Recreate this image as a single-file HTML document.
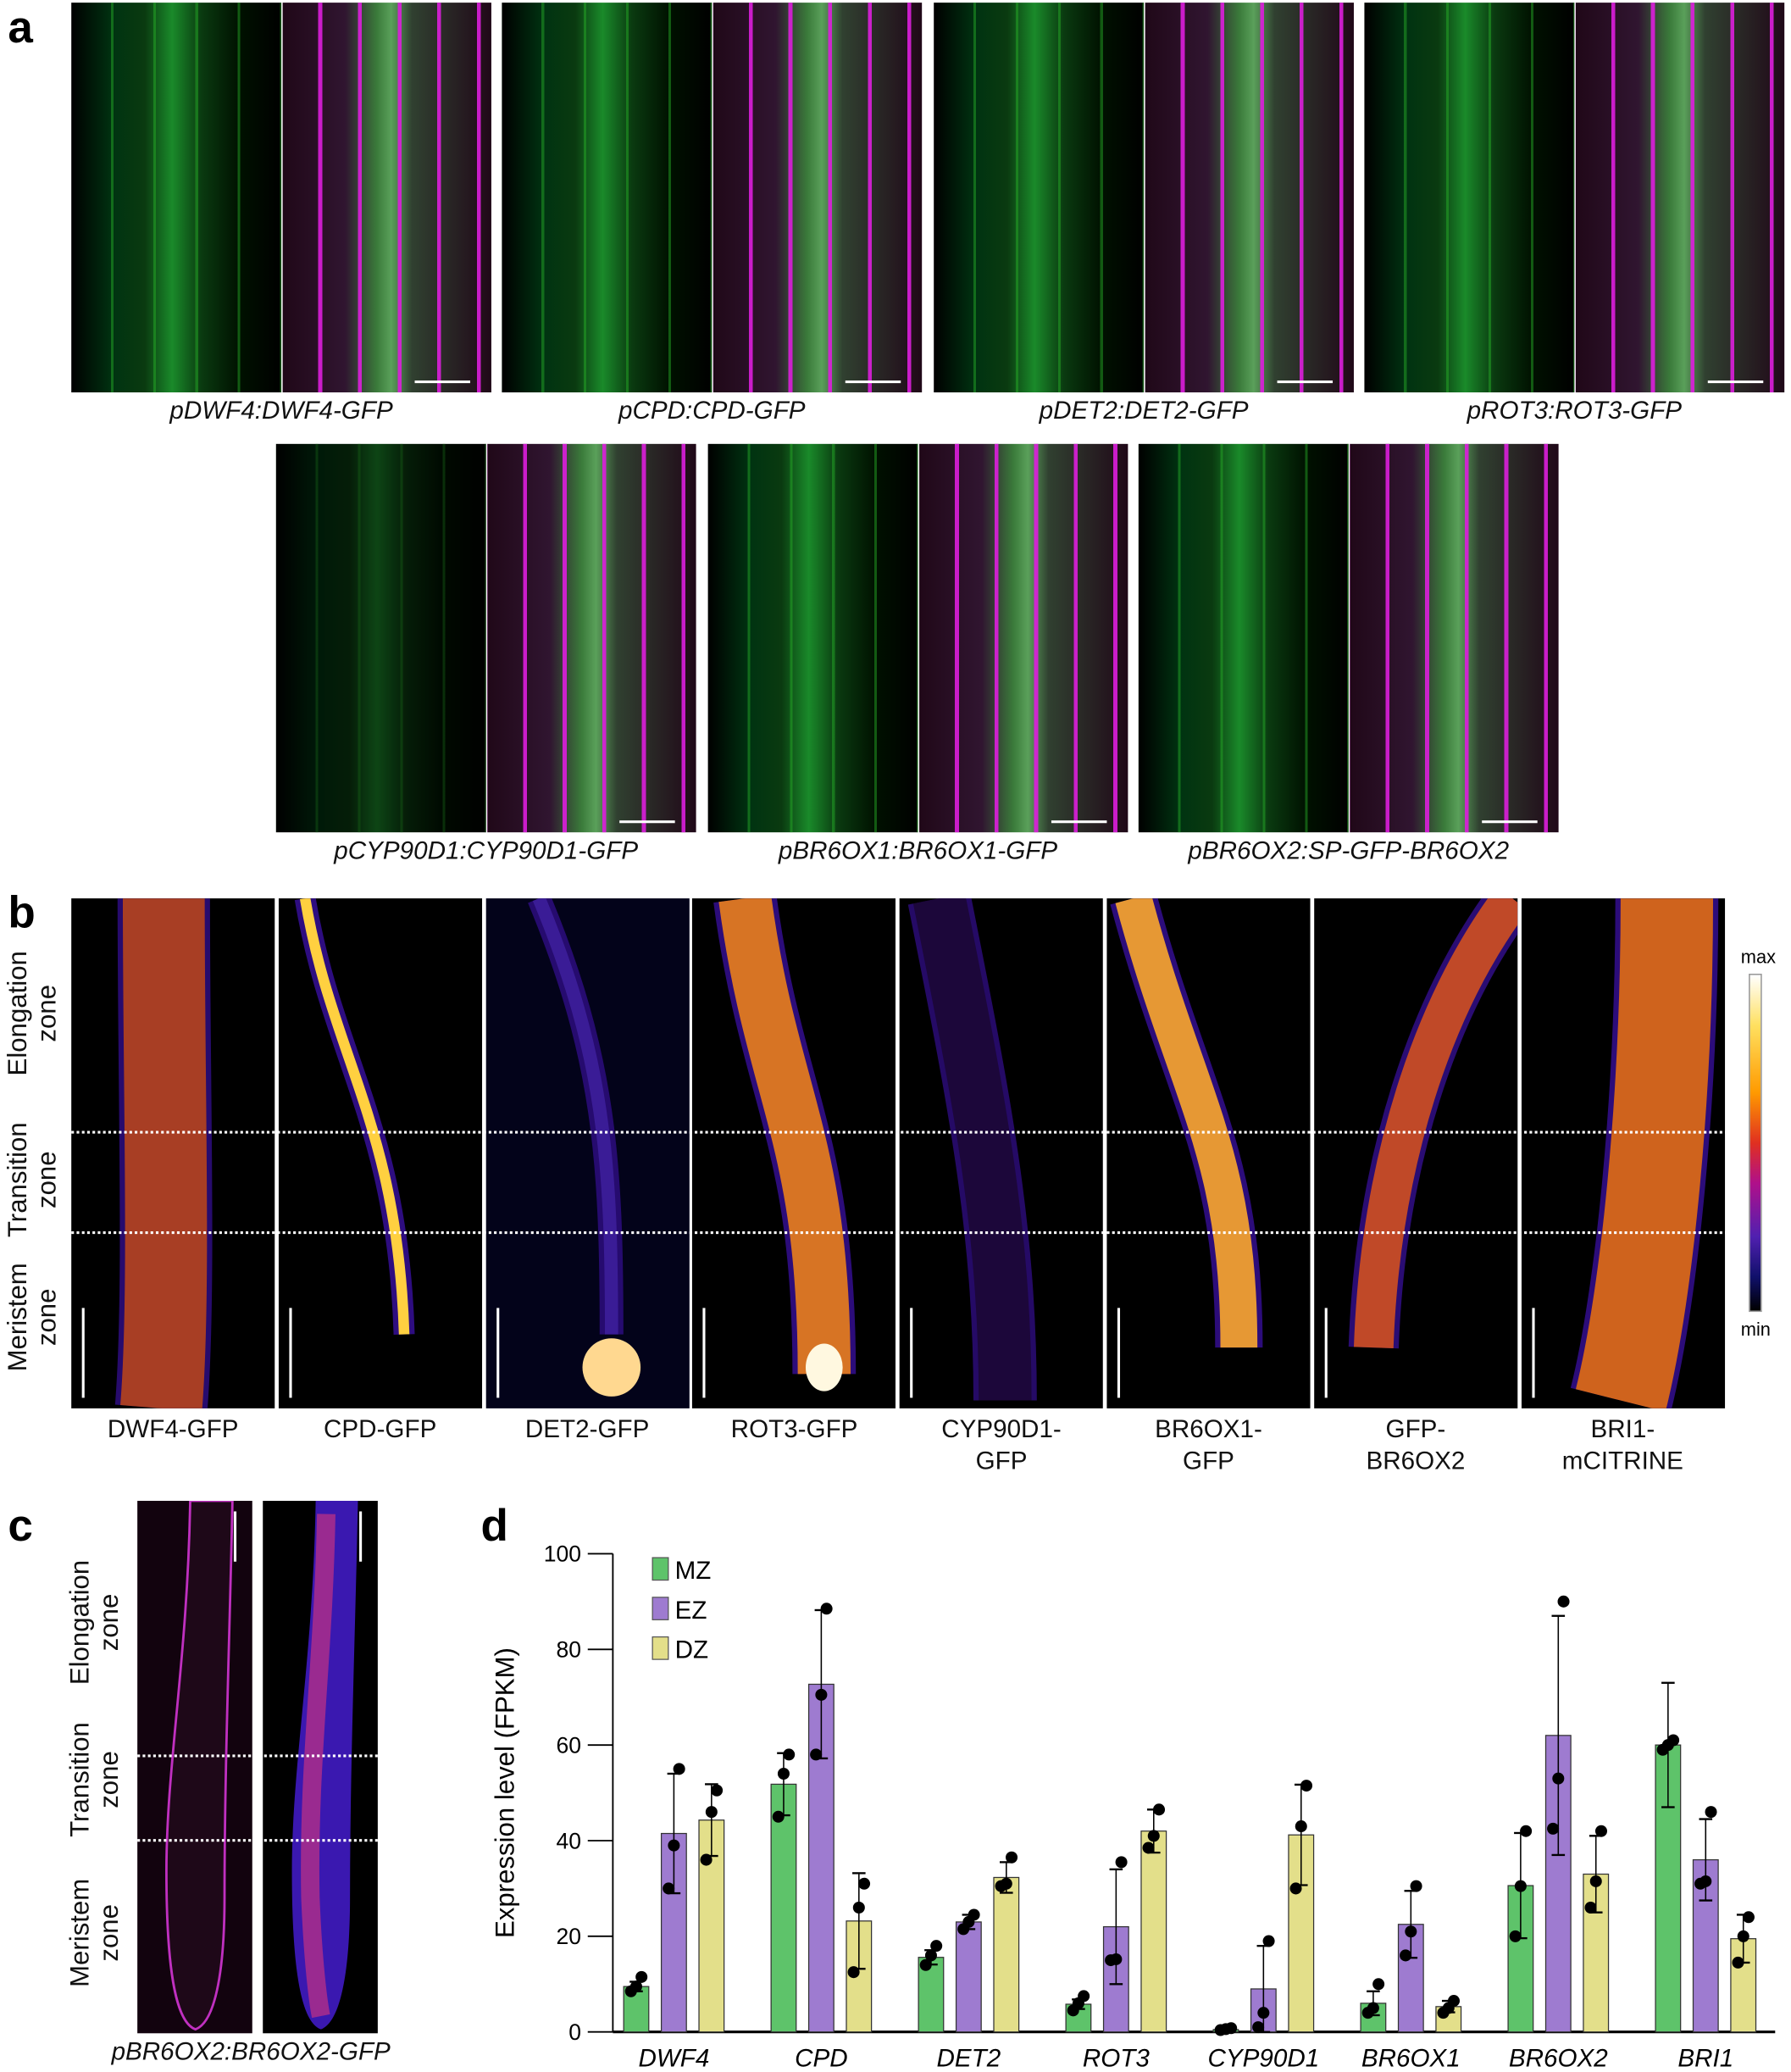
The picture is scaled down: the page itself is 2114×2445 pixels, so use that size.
<!DOCTYPE html>
<html><head><meta charset="utf-8">
<style>
html,body{margin:0;padding:0;background:#fff;}
body{width:2114px;height:2444px;overflow:hidden;position:relative;font-family:"Liberation Sans",sans-serif;}
#root{position:absolute;left:0;top:0;width:1356px;height:1568px;transform:scale(1.559);transform-origin:0 0;}
.abs{position:absolute;}
.plab{position:absolute;font-weight:bold;font-size:34px;line-height:34px;color:#000;}
.glab{position:absolute;font-style:italic;font-size:19px;text-align:center;color:#111;white-space:nowrap;}
.gh{position:absolute;background:#000;overflow:hidden;}
.gl{background:
 repeating-linear-gradient(90deg,rgba(0,0,0,0) 0 30px,rgba(40,180,40,.45) 30px 32px),
 linear-gradient(90deg,#000 0%,#031 20%,#0a3a10 35%,#1a8a2a 48%,#0a3a10 62%,#010 80%,#000 100%);}
.mg{background:
 repeating-linear-gradient(90deg,rgba(0,0,0,0) 0 27px,rgba(220,30,220,.9) 27px 30px),
 linear-gradient(90deg,#200818 0%,#301530 30%,#3a7a3a 45%,#5aa05a 52%,#304030 62%,#200818 100%);}
.sb{position:absolute;height:2px;width:42px;background:#fff;}
.bp{position:absolute;background:#000;overflow:hidden;}
.blab{position:absolute;font-size:19px;text-align:center;width:156px;line-height:24px;color:#111;}
.rot{position:absolute;transform:rotate(-90deg);transform-origin:center;text-align:center;font-size:20px;line-height:22px;white-space:nowrap;color:#111;}
</style></head><body>
<div id="root">

<div class="plab" style="left:6px;top:4px">a</div>
<div class="plab" style="left:6px;top:674px">b</div>
<div class="plab" style="left:6px;top:1138px">c</div>
<div class="plab" style="left:364px;top:1138px">d</div>

<div id="panelA"></div>
<div id="panelB"></div>
<div id="panelC"></div>

<svg id="chart" class="abs" style="left:0;top:0" width="1356" height="1568"></svg>
</div>

<script>
// ---------- Panel a ----------
var aNames=["pDWF4:DWF4-GFP","pCPD:CPD-GFP","pDET2:DET2-GFP","pROT3:ROT3-GFP","pCYP90D1:CYP90D1-GFP","pBR6OX1:BR6OX1-GFP","pBR6OX2:SP-GFP-BR6OX2"];
var aPos=[[54,2],[380,2],[707,2],[1033,2],[209,336],[536,336],[862,336]];
var A=document.getElementById('panelA');
aNames.forEach(function(n,i){
  var x=aPos[i][0],y=aPos[i][1],h=i<4?295:294;
  var l=document.createElement('div');l.className='gh gl';
  l.style.cssText+='left:'+x+'px;top:'+y+'px;width:159px;height:'+h+'px;'+(i==4?'filter:brightness(0.5);':'');
  
  
  A.appendChild(l);
  var r=document.createElement('div');r.className='gh mg';
  r.style.cssText+='left:'+(x+160)+'px;top:'+y+'px;width:158px;height:'+h+'px;';
  
  
  A.appendChild(r);
  var s=document.createElement('div');s.className='sb';
  s.style.left=(x+260)+'px';s.style.top=(y+h-9)+'px';
  
  
  A.appendChild(s);
  var t=document.createElement('div');t.className='glab';
  t.style.left=x+'px';t.style.width='318px';t.style.top=(y+h+4)+'px';t.textContent=n;
  
  
  A.appendChild(t);
});

// ---------- Panel b ----------
var bNames=[["DWF4-GFP"],["CPD-GFP"],["DET2-GFP"],["ROT3-GFP"],["CYP90D1-","GFP"],["BR6OX1-","GFP"],["GFP-","BR6OX2"],["BRI1-","mCITRINE"]];
var bShapes=[
 {p:"M70 0 C70 150 75 300 68 386",w:62,c:"#c04818",o:0.85,bg:"#000"},
 {p:"M20 0 C40 120 90 170 95 330",w:8,c:"#ffd040",o:1,bg:"#000"},
 {p:"M40 0 C90 120 95 200 95 330",w:10,c:"#4020a0",o:0.8,bg:"#03031a"},
 {p:"M40 0 C60 150 100 180 100 360",w:40,c:"#e07a20",o:0.95,bg:"#000"},
 {p:"M30 0 C60 150 80 250 80 380",w:40,c:"#1a0630",o:0.8,bg:"#000"},
 {p:"M20 0 C60 150 100 190 100 340",w:28,c:"#f0a030",o:0.95,bg:"#000"},
 {p:"M150 0 C90 80 50 200 45 340",w:30,c:"#d05020",o:0.9,bg:"#000"},
 {p:"M110 0 C110 150 95 300 75 380",w:70,c:"#d86818",o:0.95,bg:"#000"}];
var B=document.getElementById('panelB');
var ns="http://www.w3.org/2000/svg";
bNames.forEach(function(n,i){
  var x=54+i*156.8;
  var d=document.createElement('div');d.className='bp';
  d.style.cssText+='left:'+x+'px;top:680px;width:154px;height:386px;background:'+bShapes[i].bg;
  
  
  var sv=document.createElementNS(ns,'svg');sv.setAttribute('width','154');sv.setAttribute('height','386');
  var sh=bShapes[i];
  var p1=document.createElementNS(ns,'path');p1.setAttribute('d',sh.p);p1.setAttribute('fill','none');
  p1.setAttribute('stroke','#3a10a0');p1.setAttribute('stroke-width',sh.w+8);p1.setAttribute('opacity',sh.o*0.8);
  sv.appendChild(p1);
  var p2=document.createElementNS(ns,'path');p2.setAttribute('d',sh.p);p2.setAttribute('fill','none');
  p2.setAttribute('stroke',sh.c);p2.setAttribute('stroke-width',sh.w);p2.setAttribute('opacity',sh.o);
  sv.appendChild(p2);
  if(i==2){var e=document.createElementNS(ns,'ellipse');e.setAttribute('cx','95');e.setAttribute('cy','355');e.setAttribute('rx','22');e.setAttribute('ry','22');e.setAttribute('fill','#ffd890');sv.appendChild(e);}
  if(i==3){var e2=document.createElementNS(ns,'ellipse');e2.setAttribute('cx','100');e2.setAttribute('cy','355');e2.setAttribute('rx','14');e2.setAttribute('ry','18');e2.setAttribute('fill','#fff8e0');sv.appendChild(e2);}
  var bar=document.createElementNS(ns,'rect');bar.setAttribute('x','8');bar.setAttribute('y','310');bar.setAttribute('width','2');bar.setAttribute('height','68');bar.setAttribute('fill','#fff');
  sv.appendChild(bar);
  d.appendChild(sv);B.appendChild(d);
  var t=document.createElement('div');t.className='blab';
  t.style.left=(x-1)+'px';t.style.top='1071px';t.innerHTML=n.join('<br>');
  
  
  B.appendChild(t);
});
[856,932].forEach(function(y){
  var l=document.createElement('div');l.className='abs';
  l.style.cssText='left:54px;top:'+y+'px;width:1254px;height:0;border-top:2px dotted #fff;';
  
  
  B.appendChild(l);
});
var cb=document.createElement('div');cb.className='abs';
cb.style.cssText='left:1324px;top:737px;width:8px;height:254px;border:1px solid #999;background:linear-gradient(180deg,#fff 0%,#ffe060 15%,#ff9a00 35%,#e03020 50%,#b0108a 62%,#5020b0 78%,#10106a 90%,#000 100%)';


B.appendChild(cb);
[["max",716],["min",998]].forEach(function(m){
  var t=document.createElement('div');t.className='abs';t.style.cssText='left:1318px;top:'+m[1]+'px;font-size:14px;';
  t.textContent=m[0];
  
  
  B.appendChild(t);
});
[["Elongation<br>zone",767],["Transition<br>zone",893],["Meristem<br>zone",997]].forEach(function(z){
  var t=document.createElement('div');t.className='rot';
  t.style.cssText+='left:-30px;top:'+(z[1]-22)+'px;width:110px;';t.innerHTML=z[0];
  
  
  B.appendChild(t);
});

// ---------- Panel c ----------
var C=document.getElementById('panelC');
var rootPath="M40 0 C38 120 22 200 22 280 C22 360 30 395 44 400 C58 395 66 360 66 300 C66 200 70 100 72 0 Z";
[[104,"#12030e","#c030c0","rgba(0,0,0,0)",1.8],[199,"#000","#3a18b0","#9a2a90",0]].forEach(function(c,i){
  var d=document.createElement('div');d.className='bp';
  d.style.cssText+='left:'+c[0]+'px;top:1136px;width:87px;height:403px;background:'+c[1];
  
  
  var sv=document.createElementNS(ns,'svg');sv.setAttribute('width','87');sv.setAttribute('height','403');
  var p=document.createElementNS(ns,'path');p.setAttribute('d',rootPath);
  p.setAttribute('fill',i?c[2]:'#1e0818');p.setAttribute('stroke',i?'none':c[2]);p.setAttribute('stroke-width',c[4]);
  sv.appendChild(p);
  if(i){var q=document.createElementNS(ns,'path');q.setAttribute('d','M48 10 C46 120 34 200 36 300 C38 350 42 380 44 390');
    q.setAttribute('fill','none');q.setAttribute('stroke',c[3]);q.setAttribute('stroke-width','14');sv.appendChild(q);}
  d.appendChild(sv);
  var s=document.createElement('div');s.className='abs';s.style.cssText='right:12px;top:8px;width:2px;height:38px;background:#fff';
  d.appendChild(s);
  C.appendChild(d);
});
[1328,1392].forEach(function(y){
  var l=document.createElement('div');l.className='abs';
  l.style.cssText='left:104px;top:'+y+'px;width:182px;height:0;border-top:2px dotted #fff;';
  
  
  C.appendChild(l);
});
[["Elongation<br>zone",1228],["Transition<br>zone",1347],["Meristem<br>zone",1463]].forEach(function(z){
  var t=document.createElement('div');t.className='rot';
  t.style.cssText+='left:17px;top:'+(z[1]-22)+'px;width:110px;';t.innerHTML=z[0];
  
  
  C.appendChild(t);
});
var cl=document.createElement('div');cl.className='glab';
cl.style.cssText+='left:10px;top:1543px;width:360px;';cl.textContent='pBR6OX2:BR6OX2-GFP';


C.appendChild(cl);
</script>

<script>
// ---------- Panel d chart ----------
var genes=["DWF4","CPD","DET2","ROT3","CYP90D1","BR6OX1","BR6OX2","BRI1"];
var seriesNames=["MZ","EZ","DZ"];
var meanMZ=[9.5,51.8,15.6,5.8,0.5,6,30.6,60];
var meanEZ=[41.5,72.7,23,22,9,22.5,62,36];
var meanDZ=[44.3,23.2,32.3,42,41.2,5.3,33,19.5];
var sdMZ=[1,6.5,1.5,1,0.2,2.5,11,13];
var sdEZ=[12.5,15.5,1.5,12,9,7,25,8.5];
var sdDZ=[7.5,10,3.2,4.5,10.5,1.2,8,5];
var ptsMZ=[[8.5,9.5,11.5],[45,54,58],[14,16,18],[4.5,6,7.5],[0.4,0.6,0.8],[4,5,10],[20,30.5,42],[59,60,61]];
var ptsEZ=[[30,39,55],[58,70.5,88.5],[21.5,23,24.5],[15,15.2,35.5],[1,4,19],[16,21,30.5],[42.5,53,90],[31,31.5,46]];
var ptsDZ=[[36,46,50.5],[12.5,26,31],[30.5,31,36.5],[38.5,41,46.5],[30,43,51.5],[4,5,6.5],[26,31.5,42],[14.5,20,24]];
var yTicks=[0,20,40,60,80,100];

var svg=document.getElementById('chart');
var NS="http://www.w3.org/2000/svg";
var X0=464,XEND=1344,Y0=1538,Y100=1176;
function yS(v){return Y0-(v/100)*(Y0-Y100);}
function xS(g,s){return 481.7+g*111.6+s*28.5;}
var colors=["#5ec36a","#9e7bd0","#e3df8a"];
function el(t,a,name,parent){var e=document.createElementNS(NS,t);for(var k in a)e.setAttribute(k,a[k]);
  
  
  (parent||svg).appendChild(e);return e;}

el('line',{x1:X0,y1:Y0,x2:XEND,y2:Y0,stroke:'#000','stroke-width':2},'x-axis');
el('line',{x1:X0,y1:Y100,x2:X0,y2:Y0,stroke:'#000','stroke-width':1.2},'y-axis');
yTicks.forEach(function(v){
  el('line',{x1:X0-19,y1:yS(v),x2:X0,y2:yS(v),stroke:'#000','stroke-width':1.2},'y-tick');
  var t=el('text',{x:X0-24,y:yS(v)+6,'text-anchor':'end','font-size':17,'font-family':'Liberation Sans, sans-serif'},'y-tick-label');
  t.textContent=v;
});
var yt=el('text',{x:0,y:0,transform:'translate(389,1357) rotate(-90)','text-anchor':'middle','font-size':20,'font-family':'Liberation Sans, sans-serif'},'y-axis-title');
yt.textContent='Expression level (FPKM)';

var means=[meanMZ,meanEZ,meanDZ],sds=[sdMZ,sdEZ,sdDZ],pts=[ptsMZ,ptsEZ,ptsDZ];
var jit=[-4,0,4];
genes.forEach(function(g,gi){
  for(var s=0;s<3;s++){
    var cx=xS(gi,s),m=means[s][gi],sd=sds[s][gi];
    el('rect',{x:cx-9.5,y:yS(m),width:19,height:Y0-yS(m),fill:colors[s],stroke:'#333','stroke-width':0.8},'bar-'+g.toLowerCase()+'-'+seriesNames[s].toLowerCase());
    var hi=yS(m+sd),lo=yS(Math.max(0,m-sd));
    el('line',{x1:cx,y1:hi,x2:cx,y2:lo,stroke:'#000','stroke-width':1},'error-bar');
    el('line',{x1:cx-5,y1:hi,x2:cx+5,y2:hi,stroke:'#000','stroke-width':1.5},'error-cap');
    el('line',{x1:cx-5,y1:lo,x2:cx+5,y2:lo,stroke:'#000','stroke-width':1.5},'error-cap');
    pts[s][gi].forEach(function(v,k){
      el('circle',{cx:cx+jit[k],cy:yS(v),r:4.5,fill:'#000'},'data-point');
    });
  }
  var lt=el('text',{x:xS(gi,1),y:1564,'text-anchor':'middle','font-size':19,'font-style':'italic','font-family':'Liberation Sans, sans-serif'},'x-tick-label');
  lt.textContent=g;
});
seriesNames.forEach(function(n,i){
  var y=1179+i*30;
  el('rect',{x:494,y:y,width:12,height:17,fill:colors[i],stroke:'#555','stroke-width':0.8},'legend-swatch-'+n.toLowerCase());
  var t=el('text',{x:511,y:y+16,'font-size':19,'font-family':'Liberation Sans, sans-serif'},'legend-label-'+n.toLowerCase());
  t.textContent=n;
});
</script>
</body></html>
